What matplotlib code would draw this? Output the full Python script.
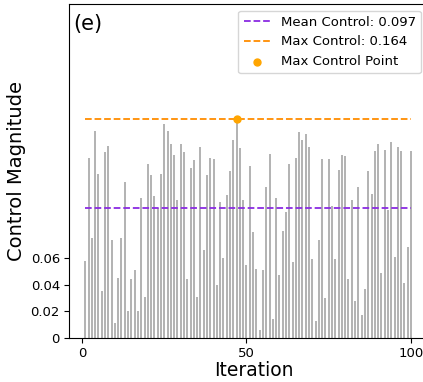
import numpy as np
import matplotlib
matplotlib.use('Agg')
import matplotlib.pyplot as plt

# control magnitude per iteration
iterations = np.arange(1, 101)
control = [
    0.058, 0.135, 0.075, 0.155, 0.123, 0.035, 0.139, 0.144, 0.073, 0.011,
    0.045, 0.075, 0.117, 0.020, 0.044, 0.051, 0.020, 0.105, 0.031, 0.130,
    0.122, 0.106, 0.097, 0.123, 0.160, 0.155, 0.145, 0.137, 0.103, 0.145,
    0.139, 0.044, 0.127, 0.133, 0.031, 0.143, 0.066, 0.122, 0.135, 0.134,
    0.040, 0.102, 0.060, 0.107, 0.125, 0.148, 0.164, 0.142, 0.103, 0.055,
    0.129, 0.079, 0.052, 0.006, 0.051, 0.113, 0.138, 0.014, 0.105, 0.047,
    0.080, 0.094, 0.130, 0.057, 0.135, 0.154, 0.148, 0.153, 0.143, 0.059,
    0.013, 0.073, 0.134, 0.030, 0.134, 0.099, 0.059, 0.126, 0.137, 0.136,
    0.044, 0.103, 0.028, 0.113, 0.017, 0.037, 0.125, 0.108, 0.140, 0.145,
    0.049, 0.141, 0.096, 0.147, 0.061, 0.143, 0.140, 0.041, 0.068, 0.140,
]
ytick_vals = [0, 0.02, 0.04, 0.06]
ytick_labels = ['0', '0.02', '0.04', '0.06']
xtick_vals = [0, 50, 100]

control = np.array(control)
mean_c = control.mean()
max_idx = int(np.argmax(control))
max_c = control[max_idx]

W, H = 423, 382
fig = plt.figure(figsize=(W / 100, H / 100), dpi=100)
# axes runs past the right edge of the figure (the reference is cropped there)
ax_w = 370
ax = fig.add_axes([69 / W, 44 / H, ax_w / W, 334 / H])

ax.vlines(iterations, 0, control, color='gray', alpha=0.6, linewidth=1.4)
ax.hlines(mean_c, iterations[0], iterations[-1], color='blueviolet', linestyle='--', linewidth=1.3,
          label='Mean Control: {:.3f}'.format(mean_c))
ax.hlines(max_c, iterations[0], iterations[-1], color='darkorange', linestyle='--', linewidth=1.3,
          label='Max Control: {:.3f}'.format(max_c))
ax.scatter([iterations[max_idx]], [max_c], color='orange', s=25, zorder=3, label='Max Control Point')

x0 = -3.95
ax.set_xlim(x0, x0 + ax_w / 3.29)
ax.set_ylim(0, 0.25)
ax.set_yticks(ytick_vals)
ax.set_yticklabels(ytick_labels)
ax.set_xticks(xtick_vals)
ax.tick_params(labelsize=9.5, pad=3)
ax.spines['right'].set_visible(False)
ax.set_xlabel('Iteration', fontsize=13.5, labelpad=1)
ax.set_ylabel('Control Magnitude', fontsize=14, labelpad=3)
ax.text(0.011, 0.97, '(e)', transform=ax.transAxes, fontsize=15, va='top', ha='left')
ax.legend(loc='upper right', fontsize=9.5, bbox_to_anchor=((421 + 6.6 - 69) / ax_w, 1.0))

fig.savefig('out.png', dpi=100)
